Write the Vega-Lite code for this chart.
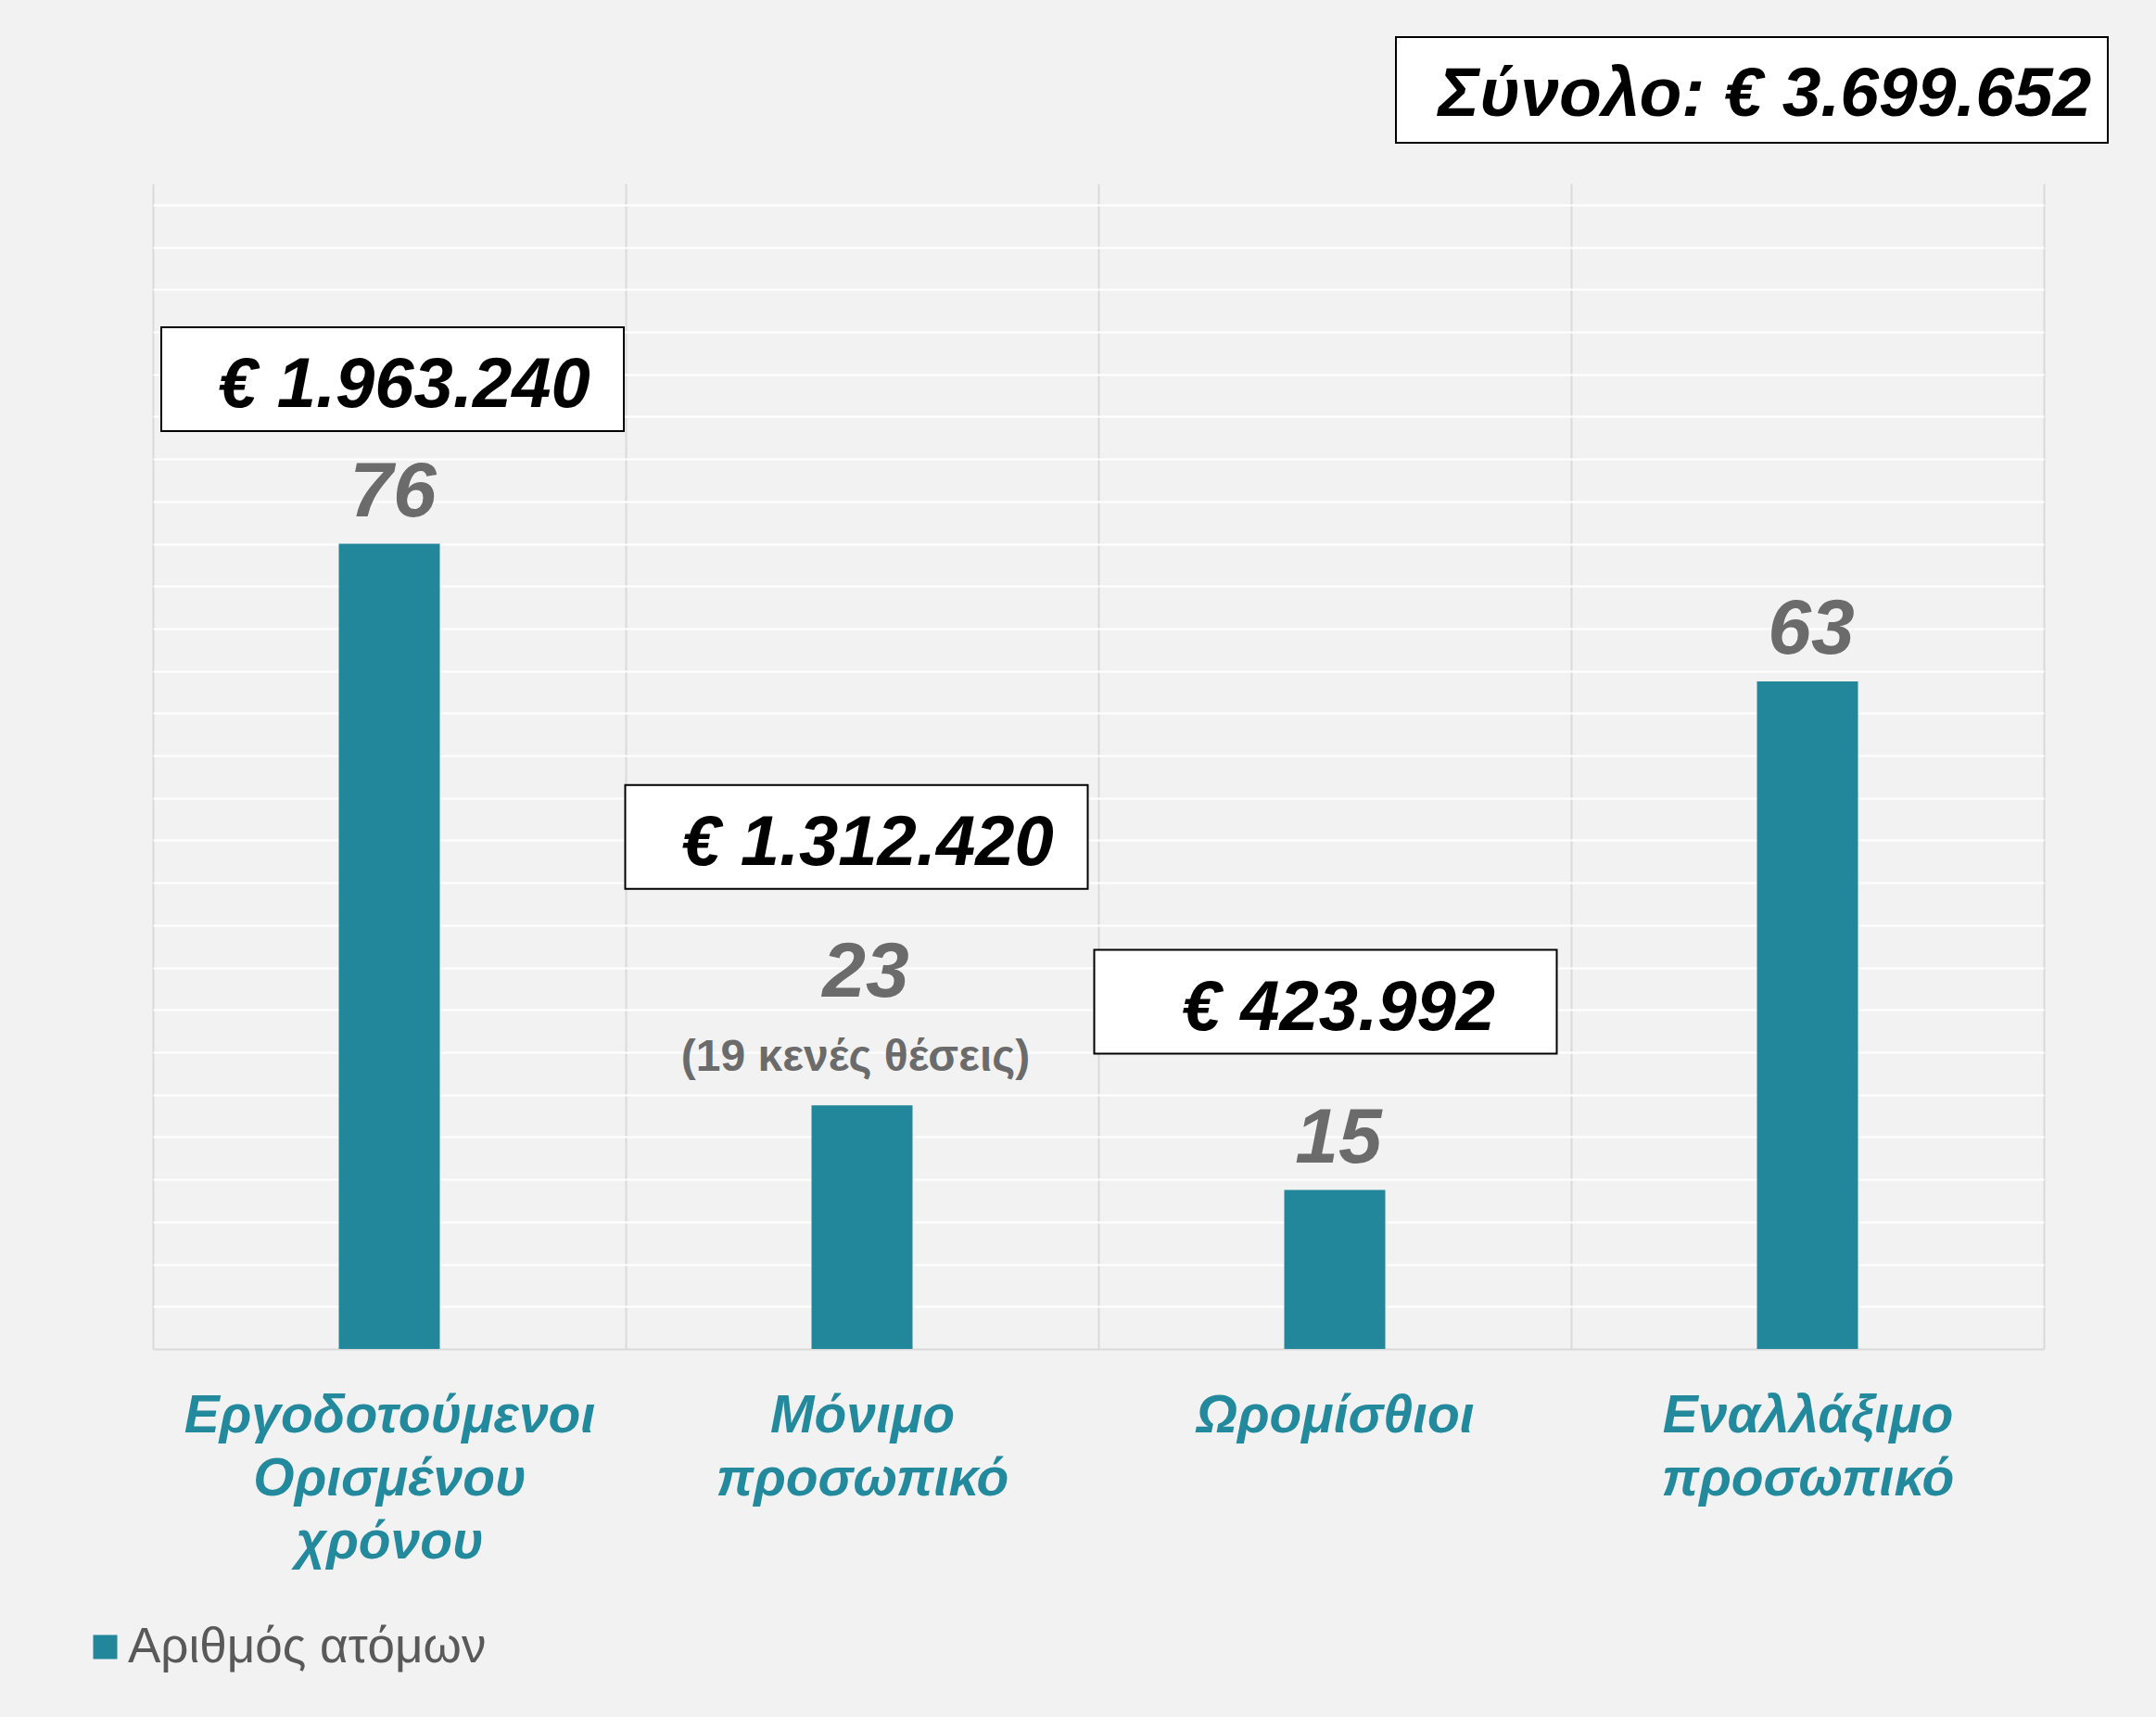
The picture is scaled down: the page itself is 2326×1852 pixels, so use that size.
{
  "$schema": "https://vega.github.io/schema/vega-lite/v6.json",
  "width": 2040,
  "height": 1257,
  "autosize": {"type": "none"},
  "padding": {"left": 165, "top": 198, "right": 121, "bottom": 397},
  "background": "#f2f2f2",
  "config": {
    "view": {"stroke": null},
    "font": "Liberation Sans",
    "locale": {"number": {"decimal": ",", "thousands": ".", "grouping": [3], "currency": ["€ ", ""]}}
  },
  "datasets": {
    "staff": [
      {"category": "Εργοδοτούμενοι Ορισμένου χρόνου", "persons": 76, "amount": 1963240},
      {"category": "Μόνιμο προσωπικό", "persons": 23, "amount": 1312420, "note": "(19 κενές θέσεις)"},
      {"category": "Ωρομίσθιοι", "persons": 15, "amount": 423992},
      {"category": "Εναλλάξιμο προσωπικό", "persons": 63}
    ],
    "total": [
      {"category": "Εναλλάξιμο προσωπικό", "label": "Σύνολο: € 3.699.652"}
    ]
  },
  "data": {"name": "staff"},
  "encoding": {
    "x": {
      "field": "category", "type": "nominal", "sort": null,
      "scale": {"paddingInner": 0, "paddingOuter": 0},
      "axis": {
        "title": null, "tickBand": "extent", "grid": true, "gridColor": "#d9d9d9", "gridWidth": 2,
        "ticks": false, "domain": true, "domainColor": "#d9d9d9", "domainWidth": 2,
        "labelAngle": 0, "labelFont": "Liberation Sans", "labelFontSize": 57, "labelFontWeight": "bold",
        "labelFontStyle": "italic", "labelColor": "#23899c", "labelPadding": 44, "labelLimit": 1000,
        "labelLineHeight": 68, "labelExpr": "split(datum.label, ' ')"
      }
    }
  },
  "layer": [
    {
      "mark": {"type": "bar", "size": 109},
      "encoding": {
        "y": {
          "field": "persons", "type": "quantitative",
          "scale": {"domain": [0, 110], "nice": false},
          "axis": {
            "title": null, "values": [4,8,12,16,20,24,28,32,36,40,44,48,52,56,60,64,68,72,76,80,84,88,92,96,100,104,108],
            "grid": true, "gridColor": "#ffffff", "gridWidth": 2, "labels": false, "ticks": false, "domain": false
          }
        },
        "color": {
          "datum": "Αριθμός ατόμων", "type": "nominal",
          "scale": {"range": ["#22879b"]},
          "legend": {
            "title": null, "orient": "none", "legendX": -78, "legendY": 1552,
            "symbolType": "square", "symbolSize": 676, "symbolStrokeWidth": 0,
            "labelFont": "Liberation Sans", "labelFontSize": 53, "labelColor": "#595959",
            "labelOffset": -2, "labelLimit": 1000
          }
        }
      }
    },
    {
      "transform": [{"filter": "!datum.note"}],
      "mark": {"type": "text", "dy": -30, "dx": 4, "baseline": "alphabetic", "align": "center", "fontSize": 84, "fontWeight": "bold", "fontStyle": "italic", "fill": "#6b6b6b"},
      "encoding": {"y": {"field": "persons", "type": "quantitative"}, "text": {"field": "persons", "type": "quantitative"}}
    },
    {
      "transform": [{"filter": "datum.note"}],
      "mark": {"type": "text", "dy": -117, "dx": 4, "baseline": "alphabetic", "align": "center", "fontSize": 84, "fontWeight": "bold", "fontStyle": "italic", "fill": "#6b6b6b"},
      "encoding": {"y": {"field": "persons", "type": "quantitative"}, "text": {"field": "persons", "type": "quantitative"}}
    },
    {
      "transform": [{"filter": "datum.note"}],
      "mark": {"type": "text", "dy": -37, "dx": -7, "baseline": "alphabetic", "align": "center", "fontSize": 48, "fontWeight": "bold", "fill": "#6b6b6b"},
      "encoding": {"y": {"field": "persons", "type": "quantitative"}, "text": {"field": "note", "type": "nominal"}}
    },
    {
      "transform": [{"filter": "datum.category == 'Εργοδοτούμενοι Ορισμένου χρόνου'"}],
      "mark": {"type": "point", "shape": "M-1,-0.2244H1V0.2244H-1Z", "size": 249001, "filled": true, "fill": "#ffffff", "stroke": "#000000", "strokeWidth": 2, "opacity": 1, "fillOpacity": 1, "yOffset": -177.5, "xOffset": 3.5},
      "encoding": {"y": {"field": "persons", "type": "quantitative"}}
    },
    {
      "transform": [{"filter": "datum.category == 'Εργοδοτούμενοι Ορισμένου χρόνου'"}],
      "mark": {"type": "text", "dy": -148, "dx": 16, "baseline": "alphabetic", "align": "center", "fontSize": 76, "fontWeight": "bold", "fontStyle": "italic", "fill": "#000000"},
      "encoding": {"y": {"field": "persons", "type": "quantitative"}, "text": {"field": "amount", "type": "quantitative", "format": "$,d"}}
    },
    {
      "transform": [{"filter": "datum.category == 'Μόνιμο προσωπικό'"}],
      "mark": {"type": "point", "shape": "M-1,-0.2244H1V0.2244H-1Z", "size": 249001, "filled": true, "fill": "#ffffff", "stroke": "#000000", "strokeWidth": 2, "opacity": 1, "fillOpacity": 1, "yOffset": -289.5, "xOffset": -6},
      "encoding": {"y": {"field": "persons", "type": "quantitative"}}
    },
    {
      "transform": [{"filter": "datum.category == 'Μόνιμο προσωπικό'"}],
      "mark": {"type": "text", "dy": -259, "dx": 6, "baseline": "alphabetic", "align": "center", "fontSize": 76, "fontWeight": "bold", "fontStyle": "italic", "fill": "#000000"},
      "encoding": {"y": {"field": "persons", "type": "quantitative"}, "text": {"field": "amount", "type": "quantitative", "format": "$,d"}}
    },
    {
      "transform": [{"filter": "datum.category == 'Ωρομίσθιοι'"}],
      "mark": {"type": "point", "shape": "M-1,-0.2244H1V0.2244H-1Z", "size": 249001, "filled": true, "fill": "#ffffff", "stroke": "#000000", "strokeWidth": 2, "opacity": 1, "fillOpacity": 1, "yOffset": -203, "xOffset": -10},
      "encoding": {"y": {"field": "persons", "type": "quantitative"}}
    },
    {
      "transform": [{"filter": "datum.category == 'Ωρομίσθιοι'"}],
      "mark": {"type": "text", "dy": -172.5, "dx": 4, "baseline": "alphabetic", "align": "center", "fontSize": 76, "fontWeight": "bold", "fontStyle": "italic", "fill": "#000000"},
      "encoding": {"y": {"field": "persons", "type": "quantitative"}, "text": {"field": "amount", "type": "quantitative", "format": "$,d"}}
    },
    {
      "data": {"name": "total"},
      "mark": {"type": "point", "clip": false, "shape": "M-1,-0.1484H1V0.1484H-1Z", "size": 589824, "filled": true, "fill": "#ffffff", "stroke": "#000000", "strokeWidth": 2, "opacity": 1, "fillOpacity": 1, "yOffset": -101, "xOffset": -60},
      "encoding": {
        "y": {"datum": 110, "type": "quantitative"}
      }
    },
    {
      "data": {"name": "total"},
      "mark": {"type": "text", "clip": false, "dy": -73, "dx": -46, "baseline": "alphabetic", "align": "center", "fontSize": 75, "fontWeight": "bold", "fontStyle": "italic", "fill": "#000000"},
      "encoding": {
        "y": {"datum": 110, "type": "quantitative"},
        "text": {"field": "label", "type": "nominal"}
      }
    }
  ]
}
